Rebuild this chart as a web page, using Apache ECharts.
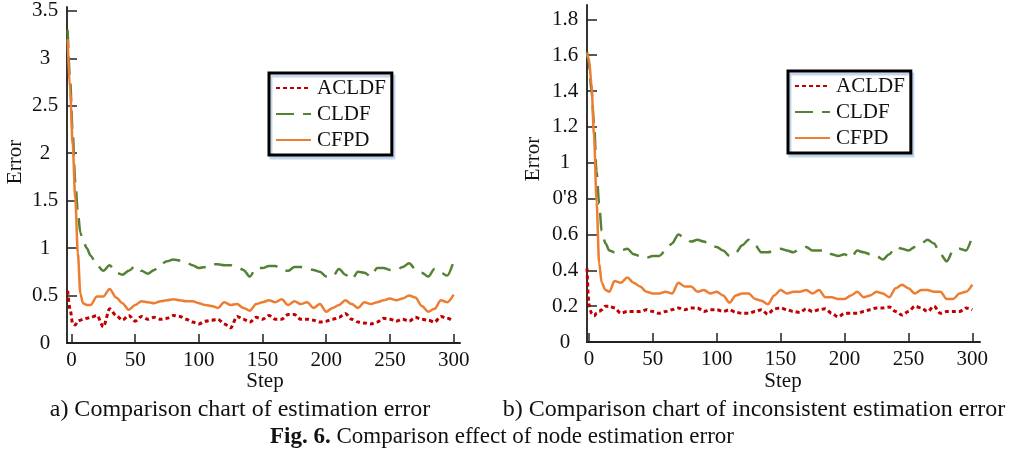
<!DOCTYPE html>
<html>
<head>
<meta charset="utf-8">
<script src="https://cdn.jsdelivr.net/npm/echarts@6/dist/echarts.min.js"></script>
<style>
  html, body { margin: 0; padding: 0; background: #fff; }
  #chart { width: 1018px; height: 454px; }
</style>
</head>
<body>
<div id="chart"></div>
<script>
// x ticks shared by both panels
const xTicks = [0, 50, 100, 150, 200, 250, 300];

// a) estimation error
const leftSteps = [-3, -1, 1, 3, 5, 7, 9, 12, 15, 20, 25, 30, 35, 40, 45, 50, 55, 60, 65, 70, 75, 80, 85, 90, 95, 100,
  105, 110, 115, 120, 125, 130, 135, 140, 145, 150, 155, 160, 165, 170, 175, 180, 185, 190, 195, 200,
  205, 210, 215, 220, 225, 230, 235, 240, 245, 250, 255, 260, 265, 270, 275, 280, 285, 290, 295, 300];
const leftACLDF = [0.55, 0.35, 0.20, 0.19, 0.23, 0.24, 0.25, 0.26, 0.27, 0.29, 0.17, 0.36, 0.29, 0.24, 0.29, 0.23, 0.28, 0.25, 0.27, 0.25, 0.26, 0.29, 0.28, 0.25, 0.22, 0.20,
  0.23, 0.24, 0.25, 0.20, 0.16, 0.28, 0.25, 0.22, 0.27, 0.25, 0.29, 0.25, 0.25, 0.30, 0.30, 0.25, 0.25, 0.24, 0.22, 0.23,
  0.25, 0.27, 0.31, 0.25, 0.22, 0.21, 0.20, 0.22, 0.26, 0.25, 0.23, 0.25, 0.23, 0.27, 0.25, 0.24, 0.22, 0.28, 0.26, 0.23];
const leftCLDF = [3.30, 2.75, 2.20, 1.70, 1.38, 1.16, 1.08, 1.00, 0.92, 0.82, 0.76, 0.82, 0.74, 0.72, 0.76, 0.81, 0.76, 0.73, 0.77, 0.83, 0.86, 0.88, 0.87, 0.85, 0.82, 0.79,
  0.80, 0.83, 0.83, 0.82, 0.82, 0.80, 0.77, 0.70, 0.79, 0.79, 0.81, 0.81, 0.77, 0.76, 0.80, 0.80, 0.78, 0.77, 0.75, 0.70,
  0.70, 0.78, 0.72, 0.67, 0.75, 0.74, 0.70, 0.79, 0.79, 0.77, 0.77, 0.80, 0.84, 0.78, 0.74, 0.70, 0.78, 0.74, 0.71, 0.86];
const leftCFPD = [3.20, 2.65, 2.08, 1.52, 0.95, 0.52, 0.42, 0.40, 0.40, 0.49, 0.49, 0.57, 0.48, 0.42, 0.35, 0.40, 0.44, 0.43, 0.42, 0.44, 0.45, 0.46, 0.45, 0.44, 0.44, 0.42,
  0.40, 0.39, 0.37, 0.43, 0.40, 0.41, 0.37, 0.34, 0.41, 0.43, 0.45, 0.43, 0.46, 0.40, 0.44, 0.41, 0.43, 0.37, 0.41, 0.33,
  0.37, 0.40, 0.45, 0.41, 0.37, 0.43, 0.41, 0.43, 0.45, 0.47, 0.45, 0.47, 0.50, 0.48, 0.39, 0.33, 0.36, 0.45, 0.43, 0.51];
const leftYTicks = [0, 0.5, 1, 1.5, 2, 2.5, 3, 3.5];
const leftYLabels = ['0', '0.5', '1', '1.5', '2', '2.5', '3', '3.5'];

// b) inconsistent estimation error
const rightSteps = [-1.5, 0, 2, 4, 6, 8, 10, 13, 16, 20, 25, 30, 35, 40, 45, 50, 55, 60, 65, 70, 75, 80, 85, 90, 95, 100,
  105, 110, 115, 120, 125, 130, 135, 140, 145, 150, 155, 160, 165, 170, 175, 180, 185, 190, 195, 200,
  205, 210, 215, 220, 225, 230, 235, 240, 245, 250, 255, 260, 265, 270, 275, 280, 285, 290, 295, 300];
const rightACLDF = [0.41, 0.21, 0.16, 0.145, 0.16, 0.17, 0.18, 0.20, 0.20, 0.19, 0.16, 0.17, 0.17, 0.17, 0.18, 0.17, 0.16, 0.17, 0.18, 0.19, 0.18, 0.19, 0.19, 0.17, 0.18, 0.18,
  0.17, 0.18, 0.165, 0.16, 0.16, 0.17, 0.18, 0.155, 0.185, 0.19, 0.18, 0.17, 0.165, 0.185, 0.17, 0.18, 0.185, 0.16, 0.14, 0.16,
  0.16, 0.16, 0.17, 0.18, 0.19, 0.19, 0.195, 0.17, 0.15, 0.17, 0.20, 0.19, 0.17, 0.20, 0.16, 0.17, 0.17, 0.17, 0.19, 0.18];
const rightCLDF = [1.62, 1.55, 1.40, 1.22, 0.95, 0.77, 0.62, 0.55, 0.51, 0.50, 0.51, 0.52, 0.49, 0.48, 0.47, 0.48, 0.48, 0.51, 0.55, 0.60, 0.58, 0.56, 0.57, 0.56, 0.54, 0.53,
  0.51, 0.48, 0.50, 0.54, 0.57, 0.54, 0.50, 0.50, 0.51, 0.52, 0.51, 0.50, 0.52, 0.53, 0.51, 0.51, 0.51, 0.49, 0.48, 0.49,
  0.47, 0.51, 0.50, 0.49, 0.48, 0.46, 0.49, 0.53, 0.52, 0.51, 0.53, 0.55, 0.57, 0.55, 0.49, 0.45, 0.51, 0.52, 0.51, 0.59];
const rightCFPD = [1.61, 1.58, 1.44, 1.15, 0.78, 0.44, 0.33, 0.29, 0.28, 0.34, 0.33, 0.36, 0.33, 0.31, 0.28, 0.27, 0.27, 0.28, 0.27, 0.33, 0.31, 0.31, 0.28, 0.29, 0.27, 0.28,
  0.26, 0.22, 0.26, 0.27, 0.27, 0.24, 0.23, 0.21, 0.26, 0.29, 0.27, 0.28, 0.28, 0.29, 0.27, 0.29, 0.25, 0.25, 0.24, 0.24,
  0.26, 0.28, 0.25, 0.26, 0.28, 0.27, 0.25, 0.30, 0.32, 0.30, 0.27, 0.29, 0.29, 0.28, 0.28, 0.24, 0.24, 0.27, 0.28, 0.32];
const rightYTicks = [0, 0.2, 0.4, 0.6, 0.8, 1, 1.2, 1.4, 1.6, 1.8];
const rightYLabels = ['0', '0.2', '0.4', '0.6', "0'8", '1', '1.2', '1.4', '1.6', '1.8'];

const names = ['ACLDF', 'CLDF', 'CFPD'];

const FONT = '"Liberation Serif", "Times New Roman", serif';
const RED = '#c00000';
const GREEN = '#548235';
const ORANGE = '#ed7d31';

const pairs = (steps, vals) => steps.map((s, i) => [s, vals[i]]);

const chart = echarts.init(document.getElementById('chart'), null, { renderer: 'canvas' });

function xAxisFor(gridIndex, min, max) {
  return {
    type: 'value', gridIndex, min, max,
    axisLine: { show: true, onZero: false, lineStyle: { color: '#222', width: 2 } },
    axisTick: { show: true, inside: true, length: 9, customValues: xTicks, lineStyle: { color: '#222', width: 1.5 } },
    axisLabel: { customValues: xTicks, margin: 7, fontFamily: FONT, fontSize: 21, color: '#111' },
    splitLine: { show: false }
  };
}

function yAxisFor(gridIndex, max, ticks, labels) {
  return {
    type: 'value', gridIndex, min: 0, max,
    axisLine: { show: true, onZero: false, lineStyle: { color: '#333', width: 2 } },
    axisTick: { show: true, inside: true, length: 10, customValues: ticks, lineStyle: { color: '#222', width: 1.5 } },
    axisLabel: {
      customValues: ticks, margin: 22, align: 'center',
      fontFamily: FONT, fontSize: 21, color: '#111',
      formatter: v => {
        const i = ticks.findIndex(t => Math.abs(t - v) < 1e-6);
        return i >= 0 ? labels[i] : '';
      }
    },
    splitLine: { show: false }
  };
}

function seriesFor(idx, steps, a, c, f) {
  const base = { type: 'line', xAxisIndex: idx, yAxisIndex: idx, symbol: 'none', smooth: 0.3, smoothMonotone: 'x', animation: false };
  return [
    Object.assign({}, base, { name: names[0], data: pairs(steps, a), lineStyle: { color: RED, width: 3, type: [4, 3] }, itemStyle: { color: RED, opacity: 0 } }),
    Object.assign({}, base, { name: names[1], data: pairs(steps, c), lineStyle: { color: GREEN, width: 2.5, type: [18, 9] }, itemStyle: { color: GREEN, opacity: 0 } }),
    Object.assign({}, base, { name: names[2], data: pairs(steps, f), lineStyle: { color: ORANGE, width: 2.5 }, itemStyle: { color: ORANGE, opacity: 0 } })
  ];
}

function legendAt(left, top) {
  return {
    orient: 'vertical', left, top,
    data: names,
    itemWidth: 35, itemHeight: 14, itemGap: 4,
    padding: [4, 6, 4, 6],
    borderColor: '#000', borderWidth: 3, borderRadius: 0,
    backgroundColor: '#fff',
    shadowColor: 'rgba(190, 210, 235, 0.9)', shadowOffsetX: 2, shadowOffsetY: 3, shadowBlur: 0,
    itemStyle: { opacity: 0 },
    textStyle: { fontFamily: FONT, fontSize: 21, color: '#111', lineHeight: 22, padding: [0, 0, 0, 1] },
    selectedMode: false
  };
}

function label(text, x, y, size, rotation) {
  return {
    type: 'text', x, y, rotation: rotation || 0,
    style: { text, fontFamily: FONT, fontSize: size, fill: '#111', align: 'center', verticalAlign: 'middle' }
  };
}

const option = {
  backgroundColor: '#fff',
  animation: false,
  grid: [
    { left: 67, top: 7, width: 393, height: 336 },
    { left: 587, top: 5, width: 393, height: 337 }
  ],
  xAxis: [xAxisFor(0, -3.5, 305), xAxisFor(1, -1.5, 306)],
  yAxis: [
    yAxisFor(0, 3.54, leftYTicks, leftYLabels),
    yAxisFor(1, 1.88, rightYTicks, rightYLabels)
  ],
  legend: [legendAt(269, 73), legendAt(788, 71)],
  series: [
    ...seriesFor(0, leftSteps, leftACLDF, leftCLDF, leftCFPD),
    ...seriesFor(1, rightSteps, rightACLDF, rightCLDF, rightCFPD)
  ],
  graphic: [
    label('Error', 15, 162, 21, Math.PI / 2),
    label('Step', 265, 381, 21),
    label('Error', 533, 159, 21, Math.PI / 2),
    label('Step', 783, 381, 21),
    label('a) Comparison chart of estimation error', 240, 410, 24),
    label('b) Comparison chart of inconsistent estimation error', 754, 410, 24),
    {
      type: 'text', x: 502, y: 437,
      style: {
        text: '{b|Fig. 6.} Comparison effect of node estimation error',
        fontFamily: FONT, fontSize: 23, fill: '#111', align: 'center', verticalAlign: 'middle',
        rich: { b: { fontFamily: FONT, fontSize: 23, fontWeight: 'bold', fill: '#111' } }
      }
    }
  ]
};

chart.setOption(option);
</script>
</body>
</html>
